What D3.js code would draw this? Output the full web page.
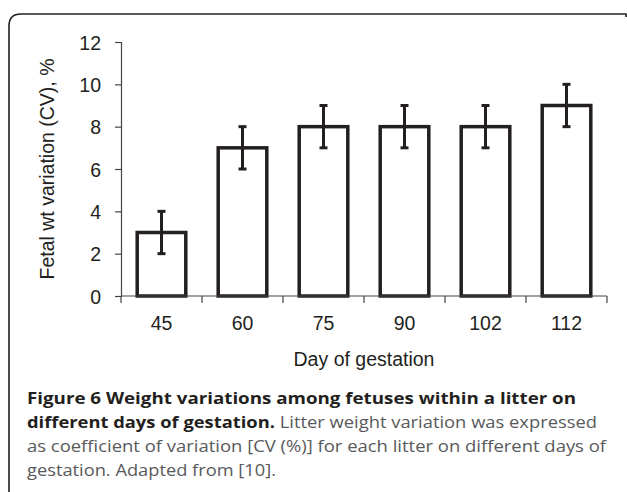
<!DOCTYPE html>
<html>
<head>
<meta charset="utf-8">
<script src="https://cdn.jsdelivr.net/npm/d3@7"></script>
<style>
  body { margin: 0; background: #fff; }
  svg { display: block; }
</style>
</head>
<body>
<svg id="chart" width="627" height="492"></svg>
<script>
// data
var days = ["45", "60", "75", "90", "102", "112"];
var cvValues = [3, 7, 8, 8, 8, 9];
var cvErrors = [1, 1, 1, 1, 1, 1];
var yTicks = [0, 2, 4, 6, 8, 10, 12];

var svg = d3.select("#chart"),
    ink = "#231f20";

// panel frame: top + left edges with rounded corner
svg.append("path")
    .attr("d", "M9,492 L9,26 Q9,14 21,14 L626,14 L626,17")
    .attr("fill", "none")
    .attr("stroke", ink)
    .attr("stroke-width", 1.6);

var x = d3.scaleBand().domain(days).range([121, 607]).paddingInner(0.4).paddingOuter(0.2);
var y = d3.scaleLinear().domain([0, 12]).range([296, 42]);

// bars
svg.append("g").selectAll("rect")
    .data(days)
  .enter().append("rect")
    .attr("x", function(d) { return x(d); })
    .attr("y", function(d, i) { return y(cvValues[i]); })
    .attr("width", x.bandwidth())
    .attr("height", function(d, i) { return y(0) - y(cvValues[i]); })
    .attr("fill", "#fff")
    .attr("stroke", ink)
    .attr("stroke-width", 3.5);

// axes
var yAxis = svg.append("g")
    .attr("transform", "translate(121,0)")
    .call(d3.axisLeft(y).tickValues(yTicks).tickSize(6).tickPadding(14));

var xEdge = d3.scaleLinear().domain([0, days.length]).range([121, 607]);
var xAxis = svg.append("g")
    .attr("transform", "translate(0,296)");
xAxis.append("line")
    .attr("x1", 121).attr("x2", 607)
    .attr("stroke", "#444").attr("stroke-width", 1.2);
xAxis.selectAll(".edge")
    .data(d3.range(days.length + 1))
  .enter().append("line")
    .attr("x1", function(d) { return xEdge(d); })
    .attr("x2", function(d) { return xEdge(d); })
    .attr("y1", 0).attr("y2", 7)
    .attr("stroke", "#444").attr("stroke-width", 1.2);
xAxis.selectAll(".lbl")
    .data(days)
  .enter().append("text")
    .attr("x", function(d) { return x(d) + x.bandwidth() / 2; })
    .attr("y", 34)
    .attr("text-anchor", "middle")
    .text(function(d) { return d; });

yAxis.select(".domain").attr("stroke", "#444").attr("stroke-width", 1.2);
yAxis.selectAll(".tick line").attr("stroke", "#444").attr("stroke-width", 1.2);
svg.selectAll("text")
    .attr("font-family", "Liberation Sans, Arial, sans-serif")
    .attr("font-size", 19.5)
    .attr("fill", ink);
yAxis.selectAll(".tick text").attr("dy", "0.36em");
yAxis.attr("font-family", null).attr("font-size", null);

// error bars
var err = svg.append("g")
    .attr("stroke", ink)
    .attr("stroke-width", 3);
days.forEach(function(d, i) {
  var cx = x(d) + x.bandwidth() / 2,
      lo = y(cvValues[i] - cvErrors[i]),
      hi = y(cvValues[i] + cvErrors[i]);
  err.append("line").attr("x1", cx).attr("x2", cx).attr("y1", lo).attr("y2", hi);
  err.append("line").attr("x1", cx - 4).attr("x2", cx + 4).attr("y1", lo).attr("y2", lo);
  err.append("line").attr("x1", cx - 4).attr("x2", cx + 4).attr("y1", hi).attr("y2", hi);
});

// axis titles
svg.append("text")
    .attr("x", 364).attr("y", 366)
    .attr("text-anchor", "middle")
    .attr("font-family", "Liberation Sans, Arial, sans-serif")
    .attr("font-size", 19.5)
    .attr("fill", ink)
    .text("Day of gestation");

svg.append("text")
    .attr("transform", "translate(54,169) rotate(-90)")
    .attr("text-anchor", "middle")
    .attr("font-family", "Liberation Sans, Arial, sans-serif")
    .attr("font-size", 19.5)
    .attr("fill", ink)
    .text("Fetal wt variation (CV), %");

// caption
var captionLines = [
  [["Figure 6 Weight variations among fetuses within a litter on", true]],
  [["different days of gestation.", true], [" Litter weight variation was expressed", false]],
  [["as coefficient of variation [CV (%)] for each litter on different days of", false]],
  [["gestation. Adapted from [10].", false]]
];
var captionWidths = [549, 570, 579, 249];

captionLines.forEach(function(line, i) {
  var t = svg.append("text")
      .attr("x", 27)
      .attr("y", 404 + i * 24)
      .attr("font-family", "Open Sans, sans-serif")
      .attr("font-size", 16.5);
  line.forEach(function(part) {
    t.append("tspan")
        .attr("font-weight", part[1] ? "bold" : "normal")
        .attr("fill", part[1] ? ink : "#58595b")
        .text(part[0]);
  });
  t.attr("textLength", captionWidths[i]).attr("lengthAdjust", "spacingAndGlyphs");
});
</script>
</body>
</html>
